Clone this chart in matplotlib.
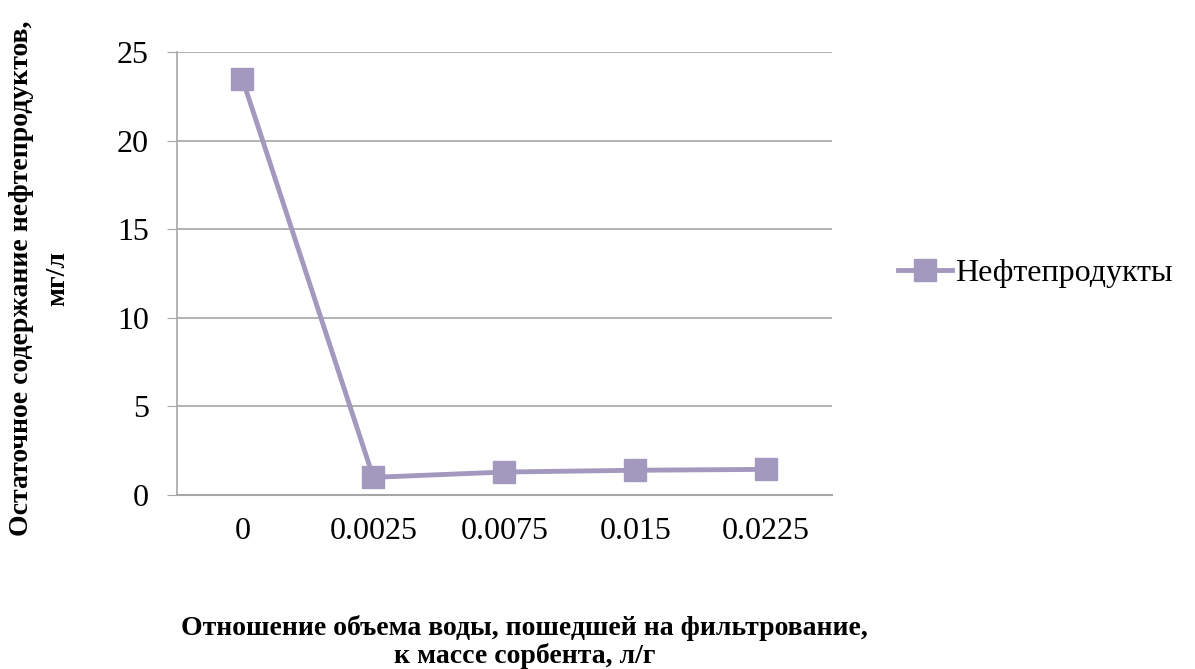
import numpy as np
import matplotlib.pyplot as plt

plt.rcParams['font.family'] = ['Liberation Serif', 'DejaVu Serif']

# Отношение объема воды к массе сорбента, л/г (категории)
categories = ['0', '0.0025', '0.0075', '0.015', '0.0225']
# Остаточное содержание нефтепродуктов, мг/л
values = [23.5, 1.0, 1.3, 1.4, 1.45]

line_color = '#A399BE'
grid_color = '#A6A6A6'

fig = plt.figure(figsize=(11.95, 6.69), dpi=100)
ax = fig.add_axes([0.148, 0.26, 0.548, 0.662])

x = np.arange(len(categories))
ax.plot(x, values, '-s', color=line_color, linewidth=3.5, markersize=16.5,
        label='Нефтепродукты')

ax.set_xlim(-0.5, len(categories) - 0.5)
ax.set_ylim(0, 25)
ax.set_yticks(np.arange(0, 26, 5))
ax.set_xticks(x)
ax.set_xticklabels(categories)

ax.grid(True, axis='y', color=grid_color, linewidth=1.2)
ax.set_axisbelow(True)
for side in ['top', 'right']:
    ax.spines[side].set_visible(False)
ax.spines['left'].set_color(grid_color)
ax.spines['bottom'].set_color(grid_color)
ax.spines['left'].set_linewidth(1.2)
ax.spines['bottom'].set_linewidth(1.5)

ax.tick_params(axis='y', length=7, color=grid_color, labelsize=23, pad=13)
ax.tick_params(axis='x', length=0, labelsize=23, pad=16)

# Подписи осей
ax.set_xlabel('Отношение объема воды, пошедшей на фильтрование,\nк массе сорбента, л/г',
              fontsize=20, fontweight='bold', linespacing=1.09, va='center')
ax.xaxis.set_label_coords(0.531, -0.331)
ax.set_ylabel('Остаточное содержание нефтепродуктов,\nмг/л',
              fontsize=20, fontweight='bold', linespacing=1.6, va='center')
ax.yaxis.set_label_coords(-0.209, 0.49)

ax.legend(loc='center left', bbox_to_anchor=(1.057, 0.5), frameon=False,
          fontsize=23, handlelength=1.7, handletextpad=0.1)

plt.savefig('out.png', dpi=100)
